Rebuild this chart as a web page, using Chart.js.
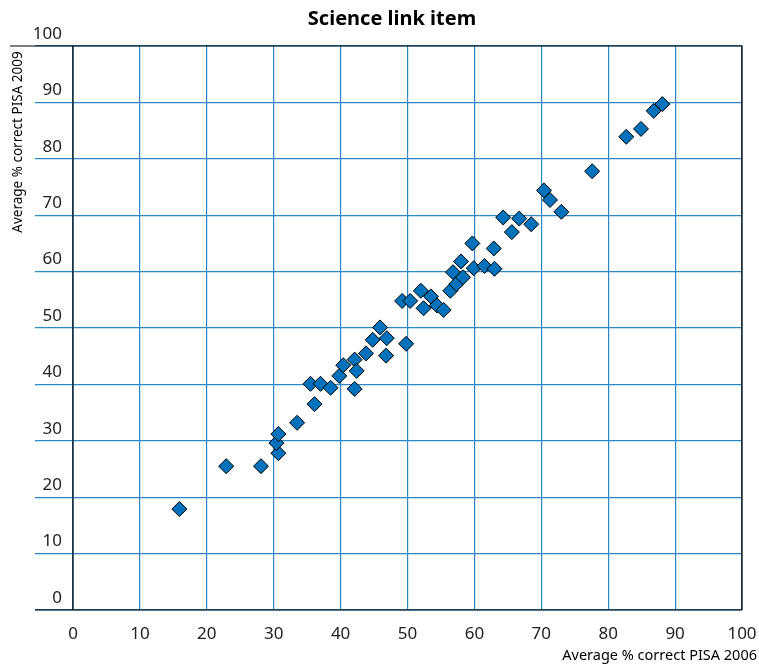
<!DOCTYPE html>
<html lang="en">
  <head>
    <meta charset="UTF-8" />
    <title>Science link item</title>
    <script src="https://cdn.jsdelivr.net/npm/chart.js"></script>
    <style>
      body {
        margin: 0;
        background: #fff;
      }
      #linkChart {
        display: block;
      }
    </style>
  </head>
  <body>
    <canvas id="linkChart" width="759" height="666"></canvas>

    <script>
      // average % correct per item, PISA 2006 (x) vs PISA 2009 (y)
      const pisa2006 = [
        15.9, 22.9, 28.1, 30.7, 30.4, 30.7, 33.5, 36.1, 35.5, 37.0, 38.5,
        39.8, 40.4, 42.1, 42.4, 42.1, 43.8, 44.8, 45.9, 46.9, 46.8, 49.8,
        49.2, 50.4, 52.0, 52.4, 53.5, 54.4, 55.4, 56.4, 56.8, 57.3, 58.3,
        58.0, 59.7, 59.9, 61.5, 63.0, 62.9, 64.3, 65.6, 66.7, 68.5, 70.4,
        71.3, 73.0, 77.6, 82.7, 84.9, 86.8, 88.1,
      ];
      const pisa2009 = [
        17.9, 25.5, 25.5, 27.8, 29.6, 31.2, 33.2, 36.5, 40.1, 40.1, 39.4,
        41.5, 43.4, 44.4, 42.4, 39.2, 45.5, 47.9, 50.1, 48.2, 45.1, 47.2,
        54.8, 54.8, 56.6, 53.5, 55.6, 54.0, 53.2, 56.6, 59.9, 57.8, 59.0,
        61.8, 65.0, 60.6, 61.0, 60.5, 64.1, 69.6, 67.0, 69.4, 68.4, 74.4,
        72.7, 70.6, 77.8, 83.9, 85.3, 88.5, 89.7,
      ];

      const titleText = "Science link item";
      const xTitle = "Average % correct PISA 2006";
      const yTitle = "Average % correct PISA 2009";

      const FONT = "'Noto Sans', sans-serif";
      const gridBlue = "#2a88c8";

      const points = pisa2006.map((x, i) => ({ x: x, y: pisa2009[i] }));

      // frame lines and the free-standing titles
      const framePlugin = {
        id: "frame",
        afterDraw(chart) {
          const ctx = chart.ctx;
          const a = chart.chartArea;
          ctx.save();
          ctx.strokeStyle = "#000";
          ctx.lineWidth = 1.2;
          ctx.beginPath();
          ctx.moveTo(10, a.top);
          ctx.lineTo(a.right, a.top);
          ctx.lineTo(a.right, a.bottom);
          ctx.moveTo(35, a.bottom);
          ctx.lineTo(a.right, a.bottom);
          ctx.moveTo(a.left, a.top);
          ctx.lineTo(a.left, a.bottom);
          ctx.stroke();

          ctx.fillStyle = "#000";
          ctx.font = "bold 20px " + FONT;
          ctx.textAlign = "center";
          ctx.textBaseline = "middle";
          ctx.fillText(titleText, 392, 19);

          ctx.font = "14.5px " + FONT;
          ctx.textAlign = "right";
          ctx.fillText(xTitle, 757, 656);

          ctx.font = "13.5px " + FONT;
          ctx.translate(18, 142);
          ctx.rotate(-Math.PI / 2);
          ctx.textAlign = "center";
          ctx.fillText(yTitle, 0, 0);
          ctx.restore();
        },
      };

      new Chart(document.getElementById("linkChart"), {
        type: "scatter",
        data: {
          datasets: [
            {
              label: "Items",
              data: points,
              pointStyle: "rectRot",
              pointRadius: 7.5,
              pointHoverRadius: 7.5,
              backgroundColor: "#0072bb",
              borderColor: "#000",
              borderWidth: 1,
            },
          ],
        },
        options: {
          responsive: false,
          animation: false,
          layout: {
            padding: { top: 46, right: 17, left: 0, bottom: 0 },
          },
          plugins: {
            legend: { display: false },
            tooltip: { enabled: false },
          },
          scales: {
            x: {
              min: 0,
              max: 100,
              afterFit: (scale) => {
                scale.height = 56;
                scale.paddingLeft = 0;
                scale.paddingRight = 0;
              },
              ticks: {
                stepSize: 10,
                padding: 14,
                color: "#222",
                font: { family: FONT, size: 17 },
              },
              grid: {
                color: gridBlue,
                lineWidth: 1.2,
                drawTicks: false,
              },
              border: { display: false },
            },
            y: {
              min: 0,
              max: 100,
              afterFit: (scale) => {
                scale.width = 73;
                scale.paddingTop = 0;
                scale.paddingBottom = 0;
              },
              ticks: {
                stepSize: 10,
                padding: -27,
                labelOffset: -12,
                color: "#222",
                font: { family: FONT, size: 17 },
              },
              grid: {
                color: gridBlue,
                lineWidth: 1.2,
                tickLength: 38,
              },
              border: { display: false },
            },
          },
        },
        plugins: [framePlugin],
      });
    </script>
  </body>
</html>
